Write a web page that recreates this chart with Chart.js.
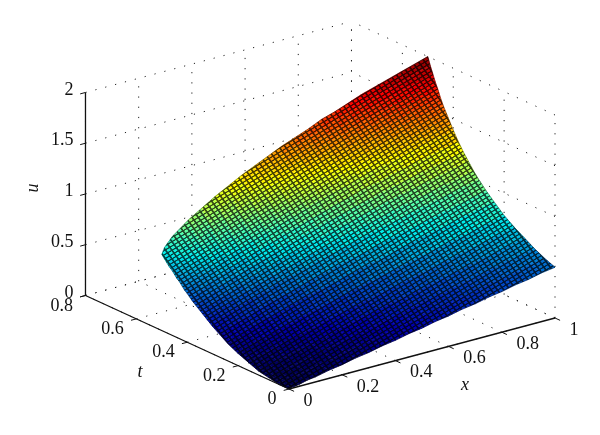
<!DOCTYPE html>
<html><head><meta charset="utf-8">
<script src="https://cdn.jsdelivr.net/npm/chart.js@4"></script>
<style>html,body{margin:0;padding:0;background:#fff}canvas{display:block}</style>
</head><body><canvas id="c" width="600" height="435"></canvas>
<script>
const xTicks=[0,0.2,0.4,0.6,0.8,1];
const tTicks=[0,0.2,0.4,0.6,0.8];
const uTicks=[0,0.5,1,1.5,2];
const xGrid=[0,.01,.02,.04,.07,.1,.15,.2,.25,.3,.35,.4,.45,.5,.55,.6,.65,.7,.75,.8,.85,.9,.95,1];
const tGrid=[0,.04,.08,.12,.16,.2,.24,.27,.3,.32,.34,.36,.38,.4,.41,.42,.43,.44,.45,.46,.47,.48,.49,.5];
const uTable=[
[0,.01,.01,.02,.04,.05,.08,.10,.13,.15,.18,.20,.23,.25,.28,.30,.33,.35,.38,.40,.43,.45,.48,.50],
[0,.01,.02,.03,.04,.06,.09,.11,.14,.17,.19,.22,.25,.27,.30,.33,.36,.38,.41,.44,.46,.49,.52,.54],
[.02,.03,.03,.05,.06,.08,.11,.14,.17,.20,.22,.25,.28,.31,.34,.37,.39,.42,.45,.48,.51,.54,.56,.59],
[.04,.05,.06,.07,.09,.11,.14,.17,.20,.24,.27,.30,.33,.36,.38,.41,.44,.47,.50,.53,.56,.59,.62,.65],
[.08,.09,.10,.11,.13,.16,.19,.22,.25,.29,.32,.35,.38,.41,.44,.47,.50,.53,.56,.59,.62,.65,.68,.71],
[.12,.14,.15,.16,.19,.21,.25,.28,.32,.35,.38,.42,.45,.48,.51,.54,.57,.60,.63,.66,.69,.72,.75,.78],
[.17,.19,.20,.22,.25,.28,.32,.35,.39,.43,.46,.49,.53,.56,.59,.62,.66,.69,.72,.75,.78,.81,.84,.87],
[.22,.24,.25,.28,.31,.33,.38,.42,.45,.49,.53,.56,.60,.63,.66,.70,.73,.76,.79,.82,.85,.88,.91,.94],
[.27,.30,.31,.34,.37,.40,.44,.48,.53,.56,.60,.64,.67,.71,.74,.78,.81,.84,.87,.90,.93,.96,.99,1.02],
[.31,.34,.35,.38,.41,.44,.49,.54,.58,.62,.66,.69,.73,.77,.80,.84,.87,.90,.93,.96,.99,1.02,1.05,1.08],
[.35,.38,.40,.42,.46,.49,.54,.59,.63,.68,.72,.76,.79,.83,.86,.90,.93,.97,1.00,1.03,1.06,1.09,1.12,1.15],
[.39,.42,.44,.47,.51,.55,.60,.65,.69,.74,.78,.82,.86,.90,.93,.97,1.00,1.04,1.07,1.10,1.13,1.16,1.19,1.22],
[.43,.47,.49,.52,.57,.60,.66,.71,.76,.80,.85,.89,.93,.97,1.01,1.04,1.08,1.11,1.15,1.18,1.21,1.24,1.27,1.30],
[.48,.52,.54,.58,.62,.66,.72,.78,.83,.88,.92,.96,1.01,1.05,1.09,1.12,1.16,1.20,1.23,1.26,1.30,1.33,1.36,1.39],
[.50,.55,.57,.61,.65,.69,.75,.81,.86,.91,.96,1.00,1.05,1.09,1.13,1.17,1.20,1.24,1.28,1.31,1.34,1.37,1.41,1.44],
[.53,.57,.60,.64,.68,.73,.79,.85,.90,.95,1.00,1.05,1.09,1.13,1.17,1.21,1.25,1.29,1.32,1.36,1.39,1.42,1.46,1.49],
[.56,.60,.63,.67,.72,.76,.82,.88,.94,.99,1.04,1.09,1.14,1.18,1.22,1.26,1.30,1.34,1.37,1.41,1.44,1.48,1.51,1.54],
[.58,.63,.66,.70,.75,.79,.86,.92,.98,1.03,1.08,1.13,1.18,1.22,1.27,1.31,1.35,1.39,1.43,1.46,1.50,1.53,1.56,1.59],
[.61,.66,.68,.73,.78,.83,.90,.96,1.02,1.08,1.13,1.18,1.23,1.27,1.32,1.36,1.40,1.44,1.48,1.52,1.55,1.59,1.62,1.65],
[.64,.69,.72,.76,.81,.86,.94,1.00,1.06,1.12,1.18,1.23,1.28,1.32,1.37,1.41,1.46,1.50,1.54,1.58,1.61,1.65,1.68,1.72],
[.66,.72,.75,.79,.85,.90,.98,1.04,1.11,1.17,1.22,1.28,1.33,1.38,1.43,1.47,1.51,1.56,1.60,1.64,1.67,1.71,1.75,1.78],
[.69,.75,.78,.83,.89,.94,1.02,1.09,1.15,1.22,1.27,1.33,1.38,1.43,1.48,1.53,1.57,1.62,1.66,1.70,1.74,1.78,1.81,1.85],
[.72,.78,.81,.86,.92,.98,1.06,1.13,1.20,1.27,1.33,1.38,1.44,1.49,1.54,1.59,1.64,1.68,1.73,1.77,1.81,1.84,1.89,1.92],
[.75,.81,.84,.90,.96,1.02,1.10,1.18,1.25,1.32,1.38,1.44,1.50,1.55,1.60,1.66,1.70,1.75,1.80,1.84,1.88,1.92,1.96,2.00]
];
const TMAX=0.8, UMAX=2;
// oblique view of the 3-D box: where the plot's origin and unit axes land
const view={ox:289,oy:389,xx:266,xy:-71,tx:-254.4,ty:-116.9,uPx:101.5,uBase:295};
function project(x,t,u){
  const py=view.oy+view.xy*x+view.ty*t-view.uPx*u;
  return {x:view.ox+view.xx*x+view.tx*t, y:(view.uBase-py)/view.uPx};
}
// jet colormap; low parts of the surface carry a tighter mesh, so they read darker
function jet(v){
  const s=0.55+0.45*Math.min(1,v/0.45);
  const c=a=>Math.round(255*s*Math.max(0,Math.min(1,1.5-Math.abs(4*v-a))));
  return `rgb(${c(3)},${c(2)},${c(1)})`;
}
const layers=[];
function line(pts,style){layers.push(Object.assign({data:pts,showLine:true,pointRadius:0,borderWidth:1,borderColor:'#000',fill:false,clip:false},style));}
const dotted={borderColor:'#222',borderWidth:1,borderDash:[1.2,9]};
// back walls and floor
xTicks.forEach(x=>{
  line([project(x,0,0),project(x,TMAX,0)],dotted);
  line([project(x,TMAX,0),project(x,TMAX,UMAX)],dotted);
});
tTicks.forEach(t=>{
  line([project(0,t,0),project(1,t,0)],dotted);
  line([project(1,t,0),project(1,t,UMAX)],dotted);
});
uTicks.forEach(u=>{
  line([project(0,TMAX,u),project(1,TMAX,u)],dotted);
  line([project(1,0,u),project(1,TMAX,u)],dotted);
});
// surface cells, back to front
for(let j=tGrid.length-2;j>=0;j--){
  for(let i=0;i<xGrid.length-1;i++){
    const a=uTable[j][i],b=uTable[j][i+1],c=uTable[j+1][i+1],d=uTable[j+1][i];
    const col=jet((a+b+c+d)/4/UMAX);
    line([project(xGrid[i],tGrid[j],a),project(xGrid[i+1],tGrid[j],b),project(xGrid[i+1],tGrid[j+1],c),project(xGrid[i],tGrid[j+1],d),project(xGrid[i],tGrid[j],a)],
      {fill:'shape',backgroundColor:col,borderColor:col,borderWidth:0.6});
  }
}
// fine mesh texture over the whole surface
const outline=[];
const nx=xGrid.length-1,nt=tGrid.length-1;
for(let i=0;i<=nx;i++)outline.push(project(xGrid[i],tGrid[0],uTable[0][i]));
for(let j=1;j<=nt;j++)outline.push(project(xGrid[nx],tGrid[j],uTable[j][nx]));
for(let i=nx-1;i>=0;i--)outline.push(project(xGrid[i],tGrid[nt],uTable[nt][i]));
for(let j=nt-1;j>=0;j--)outline.push(project(xGrid[0],tGrid[j],uTable[j][0]));
const TILE=6;
const tile=document.createElement('canvas');tile.width=tile.height=TILE;
const tc=tile.getContext('2d');
tc.fillStyle='rgba(0,0,0,0.72)';
tc.fillRect(0,0,TILE,2);tc.fillRect(0,2,2,TILE-2);
const ptn=document.getElementById('c').getContext('2d').createPattern(tile,'repeat');
ptn.setTransform(new DOMMatrix([4.4/TILE,-2.6/TILE,-2.2/TILE,-3.0/TILE,0,0]));
line(outline,{fill:'shape',backgroundColor:ptn,borderColor:'rgba(0,0,0,0.45)',borderWidth:0.7});
// axis lines and tick stubs
const axisStyle={borderColor:'#111',borderWidth:1.3};
const stubStyle={borderColor:'#111',borderWidth:1};
line([project(0,0,0),project(1,0,0)],axisStyle);
line([project(0,0,0),project(0,TMAX,0)],axisStyle);
line([project(0,TMAX,0),project(0,TMAX,UMAX)],axisStyle);
xTicks.forEach(x=>line([project(x,0,0),project(x,-0.02,0)],stubStyle));
tTicks.forEach(t=>line([project(0,t,0),project(-0.02,t,0)],stubStyle));
uTicks.forEach(u=>line([project(0,TMAX,u),project(-0.02,TMAX,u)],stubStyle));
const datasets=layers.reverse();

const FONT='"Liberation Serif"';
const axisText={id:'axisText',afterDraw(ch){
  const c=ch.ctx,sx=ch.scales.x,sy=ch.scales.y;
  const P=(p)=>({x:sx.getPixelForValue(p.x),y:sy.getPixelForValue(p.y)});
  c.save();c.fillStyle='#111';c.font='18px '+FONT;c.textBaseline='middle';
  c.textAlign='left';
  xTicks.forEach(x=>{const p=P(project(x,0,0));c.fillText(String(x),p.x+14.6,p.y+12);});
  c.textAlign='right';
  tTicks.forEach(t=>{const p=P(project(0,t,0));c.fillText(String(t),p.x-12.5,p.y+10.5);});
  c.font='italic 18px '+FONT;c.textAlign='center';
  c.fillText('x',465,385);
  c.fillText('t',140,372);
  c.translate(33,188);c.rotate(-Math.PI/2);c.fillText('u',0,0);
  c.restore();
}};
new Chart(document.getElementById('c'),{
  type:'scatter',
  data:{datasets},
  plugins:[axisText],
  options:{
    responsive:false,animation:false,devicePixelRatio:1,
    layout:{padding:0,autoPadding:false},
    plugins:{legend:{display:false},tooltip:{enabled:false},title:{display:false}},
    events:[],
    scales:{
      x:{type:'linear',min:0,max:600,display:false},
      y:{type:'linear',min:(view.uBase-435)/view.uPx,max:view.uBase/view.uPx,
        position:{x:73.5},
        afterBuildTicks(ax){ax.ticks=uTicks.map(v=>({value:v}));},
        afterFit(ax){ax.paddingTop=0;ax.paddingBottom=0;ax.paddingLeft=0;ax.paddingRight=0;},
        grid:{display:false,drawTicks:false},border:{display:false},
        ticks:{color:'#111',font:{family:FONT,size:18},padding:0,labelOffset:-2,autoSkip:false,maxRotation:0,callback:v=>String(v)}}
    }
  }
});
</script></body></html>
